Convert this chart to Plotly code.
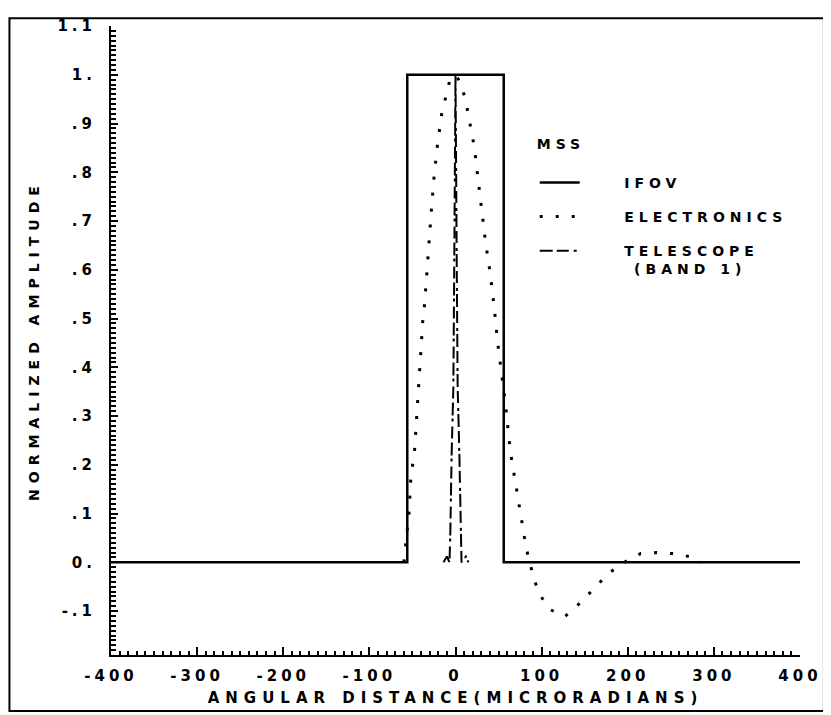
import plotly.graph_objects as go

FONT = "DejaVu Sans"


def spaced(text, gap=5):
    # plotter style lettering: wide letter spacing
    return '<span style="letter-spacing:%dpx">%s</span>' % (gap, text)


# IFOV (rectangular response plus baseline)
ifov_x = [-400, -56, -56, 56, 56, 400]
ifov_y = [0, 0, 1.0, 1.0, 0, 0]

# Electronics response
elec_x = [-60, -58, -54, -52, -49.7, -47.4, -45, -42.8, -40.5, -38, -35.8, -33.5,
          -31, -28, -25, -21, -16, -11.6, -7, 0, 5.7, 11.5, 15, 18.5, 22, 26.6, 31,
          35, 40.5, 45, 48.5, 53, 58, 63.6, 72.8, 78.6, 82, 91, 98, 110, 127, 145,
          160.6, 178, 196, 215, 233.5, 252, 271.6, 285]
elec_y = [0, 0.038, 0.101, 0.17, 0.202, 0.232, 0.3, 0.364, 0.432, 0.495, 0.531, 0.594,
          0.657, 0.723, 0.788, 0.855, 0.92, 0.955, 0.986, 1.0, 0.984, 0.95, 0.915, 0.883,
          0.85, 0.78, 0.717, 0.655, 0.59, 0.523, 0.457, 0.39, 0.325, 0.228, 0.129, 0.063,
          0.03, -0.034, -0.067, -0.097, -0.111, -0.083, -0.055, -0.022, 0.0, 0.018,
          0.02, 0.018, 0.012, 0.0]

# Telescope (band 1) response
tele_x = [-14, -10, -7, -6, -4.5, -2.5, -1.5, 0, 1.5, 2.5, 4.5, 6, 7, 12, 15]
tele_y = [0, 0.012, 0, 0.06, 0.22, 0.36, 0.6, 1.0, 0.6, 0.36, 0.22, 0.06, 0, 0.012, 0]

y_ticks = [-0.1, 0, 0.1, 0.2, 0.3, 0.4, 0.5, 0.6, 0.7, 0.8, 0.9, 1.0, 1.1]
y_labels = ["-.1", "0.", ".1", ".2", ".3", ".4", ".5", ".6", ".7", ".8", ".9", "1.", "1.1"]
x_ticks = [-400, -300, -200, -100, 0, 100, 200, 300, 400]
x_labels = ["-400", "-300", "-200", "-100", "0", "100", "200", "300", "400"]

pad = "&nbsp;&nbsp;&nbsp;&nbsp;"

fig = go.Figure()
fig.add_trace(
    go.Scatter(
        name=spaced(pad + "IFOV"),
        x=ifov_x,
        y=ifov_y,
        mode="lines",
        line=dict(color="black", width=2.5),
        legendgroup="a",
    )
)
fig.add_trace(
    go.Scatter(
        name=spaced(pad + "ELECTRONICS"),
        x=elec_x,
        y=elec_y,
        mode="lines",
        line=dict(color="black", width=3, dash="3px,13px"),
        legendgroup="b",
    )
)
fig.add_trace(
    go.Scatter(
        name=spaced(pad + "TELESCOPE") + "<br>" + spaced(pad + " (BAND 1)"),
        x=tele_x,
        y=tele_y,
        mode="lines",
        line=dict(color="black", width=2, dash="13px,4px,12px,5px,3px,3px"),
        legendgroup="c",
    )
)

axis_font = dict(family=FONT, size=15, color="black", weight="bold")

# the page body adds an 8px offset, so the figure is 8px smaller than the window
fig.update_layout(
    width=823,
    height=707,
    margin=dict(l=103, r=28, t=9, b=60),
    paper_bgcolor="white",
    plot_bgcolor="white",
    font=dict(family=FONT, size=14, color="black", weight="bold"),
    showlegend=True,
    legend=dict(
        x=0.615,
        y=0.834,
        xanchor="left",
        yanchor="top",
        title=dict(text=spaced("MSS") + "<br> ", font=dict(family=FONT, size=14, weight="bold")),
        font=dict(family=FONT, size=14, color="black", weight="bold"),
        tracegroupgap=13,
        valign="top",
        itemwidth=40,
        bgcolor="rgba(0,0,0,0)",
    ),
    xaxis=dict(
        range=[-400, 400],
        tickvals=x_ticks,
        ticktext=[spaced(t, 4) for t in x_labels],
        tickfont=axis_font,
        ticks="inside",
        ticklen=8,
        tickwidth=1.5,
        tickcolor="black",
        minor=dict(dtick=10, ticks="inside", ticklen=4, tickwidth=1.5, tickcolor="black"),
        showline=True,
        linecolor="black",
        linewidth=2,
        showgrid=False,
        zeroline=False,
        ticklabelstandoff=6,
        title=dict(
            text=spaced("ANGULAR DISTANCE(MICRORADIANS)", 6),
            font=dict(family=FONT, size=15, weight="bold"),
            standoff=8,
        ),
    ),
    yaxis=dict(
        range=[-0.19, 1.1],
        tickvals=y_ticks,
        ticktext=[spaced(t, 4) for t in y_labels],
        tickfont=axis_font,
        ticks="inside",
        ticklen=7,
        tickwidth=1.5,
        tickcolor="black",
        minor=dict(dtick=0.01, ticks="inside", ticklen=5, tickwidth=1.5, tickcolor="black"),
        showline=True,
        linecolor="black",
        linewidth=2,
        showgrid=False,
        zeroline=False,
        ticklabelstandoff=10,
        title=dict(
            text=spaced("NORMALIZED AMPLITUDE", 6),
            font=dict(family=FONT, size=14, weight="bold"),
            standoff=15,
        ),
    ),
)

# frame around the whole drawing
fig.add_shape(
    type="rect",
    xref="paper",
    yref="paper",
    x0=-0.1474,
    x1=1.0347,
    y0=-0.089,
    y1=1.0125,
    line=dict(color="black", width=2),
)

fig.write_html("out.html")
